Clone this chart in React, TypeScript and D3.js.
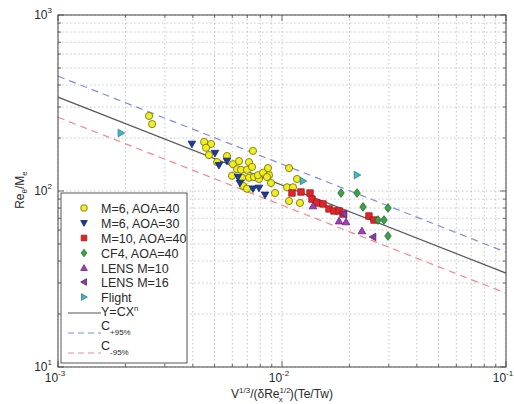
import React from 'react';
import * as d3 from 'd3';

const W = 514;
const H = 404;
const PL = 58, PR = 506, PT = 15, PB = 367;

const xDomain = [1e-3, 1e-1];
const yDomain = [10, 1000];
const xTickExps = ['-3', '-2', '-1'];
const yTickExps = ['1', '2', '3'];

// M=6, AOA=40 (yellow circles)
const m6a40X = [2.55e-3, 2.63e-3, 4.49e-3, 4.82e-3, 4.58e-3, 4.72e-3, 5.13e-3, 5.68e-3, 6.04e-3, 6.43e-3, 7.12e-3, 7.42e-3, 6.30e-3, 6.56e-3, 6.98e-3, 5.98e-3, 6.63e-3, 7.12e-3, 7.50e-3, 7.89e-3, 6.70e-3, 6.98e-3, 7.35e-3, 7.81e-3, 8.23e-3, 8.66e-3, 8.75e-3, 8.57e-3, 8.93e-3, 9.31e-3, 1.053e-2, 1.12e-2, 1.075e-2, 1.167e-2, 1.075e-2, 1.203e-2];
const m6a40Y = [267, 240, 190, 185, 176, 160, 146, 158, 142, 148, 146, 169, 133, 132, 132, 122, 119, 119, 120, 117, 107, 103, 137, 123, 127, 135, 123, 120, 111, 97.4, 105, 105, 135, 117, 87.7, 85.5];
// M=6, AOA=30 (blue down triangles)
const m6a30X = [3.96e-3, 5.02e-3, 5.23e-3, 5.68e-3, 6.36e-3, 6.49e-3, 7.42e-3, 7.89e-3, 8.40e-3];
const m6a30Y = [185, 164, 140, 148, 120, 111, 103, 104, 95];
// M=10, AOA=40 (red squares)
const m10a40X = [1.108e-2, 1.216e-2, 1.334e-2, 1.361e-2, 1.432e-2, 1.524e-2, 1.621e-2, 1.707e-2, 1.797e-2, 1.872e-2, 2.444e-2, 2.575e-2];
const m10a40Y = [97.4, 98.7, 97.4, 90, 85.5, 84.4, 79.1, 77, 77, 74, 72.1, 68.4];
// CF4, AOA=40 (green diamonds)
const cf4X = [1.834e-2, 2.162e-2, 2.30e-2, 2.683e-2, 2.853e-2, 2.972e-2, 2.972e-2];
const cf4Y = [97.4, 97.4, 81.2, 68.4, 68.4, 80.1, 55.5];
// LENS M=10 (purple up triangles)
const lens10X = [1.375e-2, 1.797e-2, 1.931e-2, 2.275e-2];
const lens10Y = [82.2, 67.5, 66.7, 59.3];
// LENS M=16 (purple left triangles)
const lens16X = [1.891e-2, 2.548e-2];
const lens16Y = [74, 54.8];
// Flight (teal right triangles)
const flightX = [1.91e-3, 1.241e-2, 2.162e-2];
const flightY = [213.5, 114, 123.3];

// Fit Y = C X^n and 95% bounds
const fitN = -0.5;
const fitC = 10.8;
const cPlus95 = 14.2;
const cMinus95 = 8.3;

const legendLabels = ['M=6, AOA=40', 'M=6, AOA=30', 'M=10, AOA=40', 'CF4, AOA=40', 'LENS M=10', 'LENS M=16', 'Flight'];

type Shape = 'circle' | 'down' | 'square' | 'diamond' | 'up' | 'left' | 'right';

const series: { xs: number[]; ys: number[]; shape: Shape; fill: string; stroke: string }[] = [
  { xs: m6a40X, ys: m6a40Y, shape: 'circle', fill: '#f2ee1e', stroke: '#6a6a10' },
  { xs: m6a30X, ys: m6a30Y, shape: 'down', fill: '#1c3a9c', stroke: '#12285f' },
  { xs: m10a40X, ys: m10a40Y, shape: 'square', fill: '#e0262a', stroke: '#a01818' },
  { xs: cf4X, ys: cf4Y, shape: 'diamond', fill: '#3aa446', stroke: '#1f6a28' },
  { xs: lens10X, ys: lens10Y, shape: 'up', fill: '#a63cb6', stroke: '#6a2080' },
  { xs: lens16X, ys: lens16Y, shape: 'left', fill: '#8a3ca8', stroke: '#5a2070' },
  { xs: flightX, ys: flightY, shape: 'right', fill: '#45b5c4', stroke: '#2a8090' },
];

function markerPath(shape: Shape, cx: number, cy: number, s: number): string {
  switch (shape) {
    case 'circle':
      return `M${cx - s},${cy}a${s},${s} 0 1,0 ${2 * s},0a${s},${s} 0 1,0 ${-2 * s},0Z`;
    case 'square':
      return `M${cx - s * 0.85},${cy - s * 0.85}h${1.7 * s}v${1.7 * s}h${-1.7 * s}Z`;
    case 'diamond':
      return `M${cx},${cy - s * 1.15}L${cx + s * 0.85},${cy}L${cx},${cy + s * 1.15}L${cx - s * 0.85},${cy}Z`;
    case 'down':
      return `M${cx - s},${cy - s * 0.75}L${cx + s},${cy - s * 0.75}L${cx},${cy + s}Z`;
    case 'up':
      return `M${cx - s},${cy + s * 0.75}L${cx + s},${cy + s * 0.75}L${cx},${cy - s}Z`;
    case 'left':
      return `M${cx + s * 0.75},${cy - s}L${cx + s * 0.75},${cy + s}L${cx - s},${cy}Z`;
    case 'right':
      return `M${cx - s * 0.75},${cy - s}L${cx - s * 0.75},${cy + s}L${cx + s},${cy}Z`;
  }
}

export default function App() {
  const x = d3.scaleLog().domain(xDomain).range([PL, PR]);
  const y = d3.scaleLog().domain(yDomain).range([PB, PT]);

  const xGrid: number[] = [];
  for (let e = -3; e < -1; e++) for (let k = 1; k <= 9; k++) xGrid.push(k * Math.pow(10, e));
  xGrid.push(0.1);
  const yGrid: number[] = [];
  for (let e = 1; e < 3; e++) for (let k = 1; k <= 9; k++) yGrid.push(k * Math.pow(10, e));
  yGrid.push(1000);

  const fitPath = (c: number) =>
    d3.line<number>().x((d) => x(d)).y((d) => y(c * Math.pow(d, fitN)))(xDomain) || '';

  const font = '"Liberation Sans", Arial, Helvetica, sans-serif';
  const txt = '#2a2a2a';

  const lgX = 61, lgY = 193, lgW = 126, lgH = 170;
  const rowYs = [208, 223, 238, 253, 268, 282, 297];

  return (
    <svg width={W} height={H} style={{ position: 'absolute', left: 0, top: 0 }} fontFamily={font}>
      <rect x={0} y={0} width={W} height={H} fill="#ffffff" />
      <rect x={PL} y={PT} width={PR - PL} height={PB - PT} fill="#ffffff" />
      {/* grid */}
      <g stroke="#b8b8b8" strokeWidth={0.8} strokeDasharray="1.5,2.5">
        {xGrid.map((v, i) => (
          <line key={'gx' + i} x1={x(v)} x2={x(v)} y1={PT} y2={PB} />
        ))}
        {yGrid.map((v, i) => (
          <line key={'gy' + i} x1={PL} x2={PR} y1={y(v)} y2={y(v)} />
        ))}
      </g>
      {/* ticks */}
      <g stroke="#444" strokeWidth={0.8}>
        {xGrid.map((v, i) => {
          const major = Math.abs(Math.log10(v) - Math.round(Math.log10(v))) < 1e-9;
          const l = major ? 6 : 3;
          return (
            <g key={'tx' + i}>
              <line x1={x(v)} x2={x(v)} y1={PB} y2={PB - l} />
              <line x1={x(v)} x2={x(v)} y1={PT} y2={PT + l} />
            </g>
          );
        })}
        {yGrid.map((v, i) => {
          const major = Math.abs(Math.log10(v) - Math.round(Math.log10(v))) < 1e-9;
          const l = major ? 6 : 3;
          return (
            <g key={'ty' + i}>
              <line x1={PL} x2={PL + l} y1={y(v)} y2={y(v)} />
              <line x1={PR} x2={PR - l} y1={y(v)} y2={y(v)} />
            </g>
          );
        })}
      </g>
      {/* fit lines */}
      <path d={fitPath(fitC)} fill="none" stroke="#555" strokeWidth={1.2} />
      <path d={fitPath(cPlus95)} fill="none" stroke="#7f8ed6" strokeWidth={1.2} strokeDasharray="7,5" />
      <path d={fitPath(cMinus95)} fill="none" stroke="#f08a90" strokeWidth={1.2} strokeDasharray="7,5" />
      {/* data */}
      {series.map((s, si) => (
        <g key={'s' + si}>
          {s.xs.map((xv, i) => (
            <path
              key={i}
              d={markerPath(s.shape, x(xv), y(s.ys[i]), s.shape === 'circle' ? 3.6 : 3.8)}
              fill={s.fill}
              stroke={s.stroke}
              strokeWidth={0.8}
            />
          ))}
        </g>
      ))}
      {/* frame */}
      <rect x={PL} y={PT} width={PR - PL} height={PB - PT} fill="none" stroke="#444" strokeWidth={1} />
      {/* tick labels */}
      <g fill={txt} fontSize={12}>
        {yTickExps.map((e) => (
          <text key={'yl' + e} x={PL - 6} y={y(Math.pow(10, +e)) + 4} textAnchor="end">
            10<tspan dy={-6} fontSize={8}>{e}</tspan>
          </text>
        ))}
        {xTickExps.map((e) => (
          <text key={'xl' + e} x={x(Math.pow(10, +e)) - 3} y={PB + 15} textAnchor="middle">
            10<tspan dy={-6} fontSize={8}>{e}</tspan>
          </text>
        ))}
      </g>
      {/* axis labels */}
      <text x={282} y={398} textAnchor="middle" fill={txt} fontSize={12}>
        V<tspan dy={-5} fontSize={8}>1/3</tspan>
        <tspan dy={5}>/(δRe</tspan>
        <tspan dy={-5} fontSize={8}>1/2</tspan>
        <tspan dx={-12} dy={9} fontSize={8}>x</tspan>
        <tspan dx={7} dy={-4}>)(Te/Tw)</tspan>
      </text>
      <text transform={`translate(24,${190}) rotate(-90)`} textAnchor="middle" fill={txt} fontSize={12}>
        Re<tspan dy={3} fontSize={8}>θ</tspan>
        <tspan dy={-3}>/M</tspan>
        <tspan dy={3} fontSize={8}>e</tspan>
      </text>
      {/* legend */}
      <rect x={lgX} y={lgY} width={lgW} height={lgH} fill="#ffffff" stroke="#444" strokeWidth={0.9} />
      {series.map((s, i) => (
        <g key={'lg' + i}>
          <path d={markerPath(s.shape, 84, rowYs[i], 3.3)} fill={s.fill} stroke={s.stroke} strokeWidth={0.8} />
          <text x={101} y={rowYs[i] + 4.5} fontSize={12.5} fill={txt}>
            {legendLabels[i]}
          </text>
        </g>
      ))}
      <line x1={68} x2={101} y1={313} y2={313} stroke="#555" strokeWidth={1.2} />
      <text x={101} y={316} fontSize={12.5} fill={txt}>
        Y=CX<tspan dy={-5} fontSize={8}>n</tspan>
      </text>
      <line x1={68} x2={101} y1={333} y2={333} stroke="#7f8ed6" strokeWidth={1.2} strokeDasharray="6,4" />
      <text x={101} y={330} fontSize={12.5} fill={txt}>
        C<tspan dy={5} fontSize={8}>+95%</tspan>
      </text>
      <line x1={68} x2={101} y1={353} y2={353} stroke="#f08a90" strokeWidth={1.2} strokeDasharray="6,4" />
      <text x={101} y={350} fontSize={12.5} fill={txt}>
        C<tspan dy={5} fontSize={8}>-95%</tspan>
      </text>
    </svg>
  );
}
